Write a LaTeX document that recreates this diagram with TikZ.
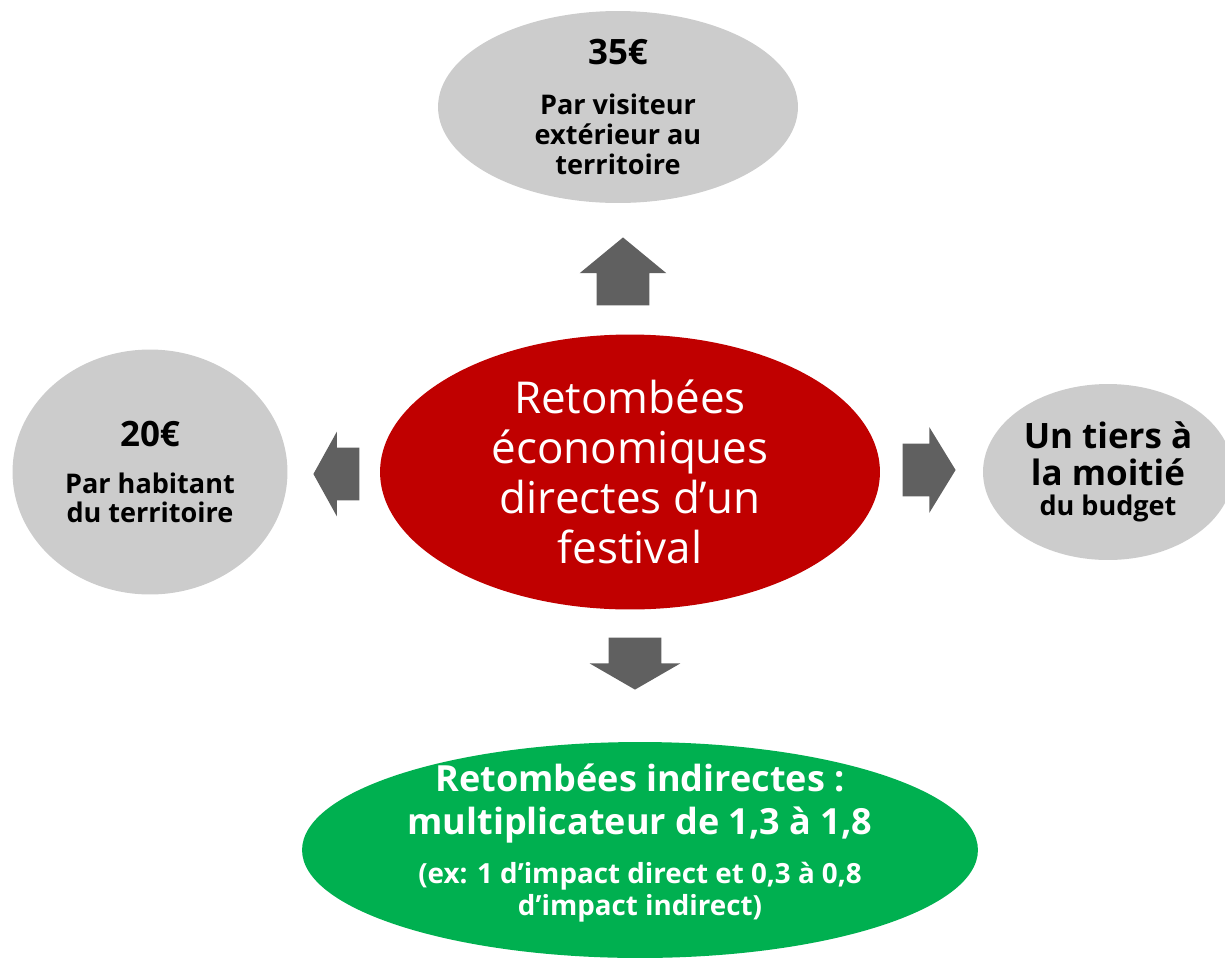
\documentclass[tikz,border=0pt]{standalone}
\usepackage{fontspec}
\setmainfont{Open Sans}
\usepackage{tikz}
\usetikzlibrary{shapes.geometric,shapes.arrows}
\definecolor{bubgray}{HTML}{CCCCCC}
\definecolor{festred}{HTML}{C00000}
\definecolor{festgreen}{HTML}{00B050}
\definecolor{arwgray}{HTML}{606060}
\tikzstyle{bub_g} = [ellipse, fill=bubgray, inner sep=0pt, align=center, font=\bfseries\fontsize{15.4}{17}\selectfont]
\tikzstyle{bub_r} = [ellipse, fill=festred, text=white, inner sep=0pt, align=center, font=\fontsize{25}{28.5}\selectfont]
\tikzstyle{bub_v} = [ellipse, fill=festgreen, inner sep=0pt]
\tikzstyle{arw_h} = [single arrow, fill=arwgray, draw=none, inner xsep=0pt, inner ysep=0.52cm, anchor=tip]
\tikzstyle{arw_v} = [single arrow, fill=arwgray, draw=none, inner xsep=0.52cm, inner ysep=0pt, anchor=tip]
\newcommand{\amount}[1]{{\fontsize{19.9}{22}\selectfont #1}}
\newcommand{\bigline}[1]{{\fontsize{20.5}{24.5}\selectfont #1}}

\begin{document}
\begin{tikzpicture}[x=0.02cm, y=-0.02cm]
\useasboundingbox (0,0) rectangle (1225,961);

% bulles
\node [bub_r, minimum width=10cm, minimum height=5.5cm] (direct) at (630,472)
    {Retombées\\ économiques\\ directes d’un\\ festival};
\node [bub_g, minimum width=7.2cm, minimum height=3.8cm] (visiteur) at (618,107)
    {\amount{35€}\\[11.7pt] Par visiteur\\ extérieur au\\ territoire};
\node [bub_g, minimum width=5.5cm, minimum height=4.9cm] (habitant) at (150,472)
    {\amount{20€}\\[9.7pt] Par habitant\\ du territoire};
\node [bub_g, minimum width=5cm, minimum height=3.52cm] (budget) at (1108,472)
    {\amount{Un tiers à}\\[4pt] \amount{la moitié}\\ du budget};
\node [bub_v, minimum width=13.52cm, minimum height=4.32cm] (indirect) at (640,850) {};
\node [align=center, text=white, font=\bfseries\fontsize{15.8}{18}\selectfont] (indirect_txt)
    at ([yshift=0.14cm]indirect.center)
    {\bigline{Retombées indirectes :}\\[6.5pt] \bigline{multiplicateur de 1,3 à 1,8}\\[10pt]
     (ex: 1 d’impact direct et 0,3 à 0,8\\ d’impact indirect)};

% fleches
\node [arw_v, shape border rotate=90, minimum height=1.36cm, single arrow head extend=0.34cm,
    single arrow tip angle=101] (to_visiteur) at (623,237) {};
\node [arw_h, shape border rotate=180, minimum height=0.92cm, single arrow head extend=0.32cm,
    single arrow tip angle=122] (to_habitant) at (313,474) {};
\node [arw_h, minimum height=1.06cm, single arrow head extend=0.33cm,
    single arrow tip angle=117] (to_budget) at (956,470) {};
\node [arw_v, shape border rotate=270, minimum height=1.04cm, single arrow head extend=0.38cm,
    single arrow tip angle=120] (to_indirect) at (635,690) {};
\end{tikzpicture}
\end{document}
